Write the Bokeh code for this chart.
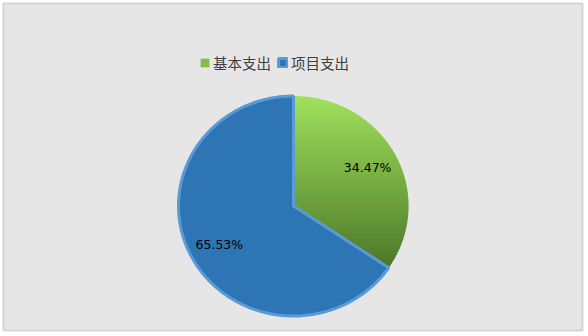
import numpy as np
from bokeh.plotting import figure
from bokeh.models import Range1d, Legend, LegendItem
from bokeh.core.properties import value
from bokeh.embed import file_html
from bokeh.resources import INLINE

categories = ["基本支出", "项目支出"]
shares = [34.47, 65.53]
label_texts = ["34.47%", "65.53%"]

W, H = 588, 336
p = figure(width=W, height=H, output_backend="svg", toolbar_location=None,
           x_range=Range1d(3, 582), y_range=Range1d(6, 333),
           min_border_left=3, min_border_top=3, min_border_right=6, min_border_bottom=6,
           background_fill_color="#e6e6e6", border_fill_color="white",
           outline_line_color="#d4d4d4", outline_line_width=2)
p.axis.visible = False
p.grid.visible = False

cx, cy = 293.0, 336 - 205.5
rx, ry = 115.0, 110.0

def sector(a0, a1, n=200):
    t = np.linspace(a0, a1, n)
    xs = np.concatenate([[cx], cx + rx * np.cos(t), [cx]])
    ys = np.concatenate([[cy], cy + ry * np.sin(t), [cy]])
    return xs, ys

def clip(xs, ys, yv, keep_above):
    pts = list(zip(xs, ys))
    out = []
    inside = (lambda q: q[1] >= yv) if keep_above else (lambda q: q[1] <= yv)
    for i in range(len(pts)):
        a, b = pts[i - 1], pts[i]
        ia, ib = inside(a), inside(b)
        if ib:
            if not ia:
                t = (yv - a[1]) / (b[1] - a[1])
                out.append((a[0] + t * (b[0] - a[0]), yv))
            out.append(b)
        elif ia:
            t = (yv - a[1]) / (b[1] - a[1])
            out.append((a[0] + t * (b[0] - a[0]), yv))
    if not out:
        return [], []
    return [q[0] for q in out], [q[1] for q in out]

total = sum(shares)
angles = []
start = np.pi / 2
for s in shares:
    end = start - 2 * np.pi * s / total
    angles.append((start, end))
    start = end

# green slice with vertical gradient
gx, gy = sector(*angles[0])
top, bot = gy.max(), gy.min()
c_top = np.array([160, 226, 92])
c_bot = np.array([78, 120, 42])
nb = 60
edges = np.linspace(top + 1, bot - 1, nb + 1)
bxs, bys, bcols = [], [], []
for i in range(nb):
    x1, y1 = clip(gx, gy, edges[i] + 0.6, False)
    if not x1:
        continue
    x2, y2 = clip(x1, y1, edges[i + 1] - 0.6, True)
    if not x2:
        continue
    f = (top - (edges[i] + edges[i + 1]) / 2) / (top - bot)
    c = (c_top + (c_bot - c_top) * min(max(f, 0), 1)).astype(int)
    bxs.append(x2); bys.append(y2)
    bcols.append("#%02x%02x%02x" % tuple(c))
green = p.patches(xs=bxs, ys=bys, fill_color=bcols, line_color=None)

# blue slice
bx, by = sector(*angles[1])
blue = p.patch(x=bx, y=by, fill_color="#2e75b6", line_color="#5b9bd5", line_width=3)

# labels
lx, ly = [], []
for (a0, a1) in angles:
    m = (a0 + a1) / 2
    lx.append(cx + 0.73 * rx * np.cos(m))
    ly.append(cy + 0.75 * ry * np.sin(m))
p.text(x=lx, y=ly, text=label_texts, text_align="center", text_baseline="middle",
       text_font=value("DejaVu Sans"), text_font_size="12.5px", text_color="black")

# legend
legend = Legend(items=[LegendItem(label=categories[0], renderers=[green], index=len(bcols) // 3),
                       LegendItem(label=categories[1], renderers=[blue])],
                orientation="horizontal", location=(196, 257),
                background_fill_alpha=0, border_line_color=None,
                padding=0, margin=0, spacing=6, label_standoff=3,
                glyph_width=11, glyph_height=11, label_height=14,
                label_text_font="Noto Sans CJK SC", label_text_font_size="14.5px",
                label_text_color="#404040")
p.add_layout(legend, "center")

open("out.html", "w").write(file_html(p, INLINE))
